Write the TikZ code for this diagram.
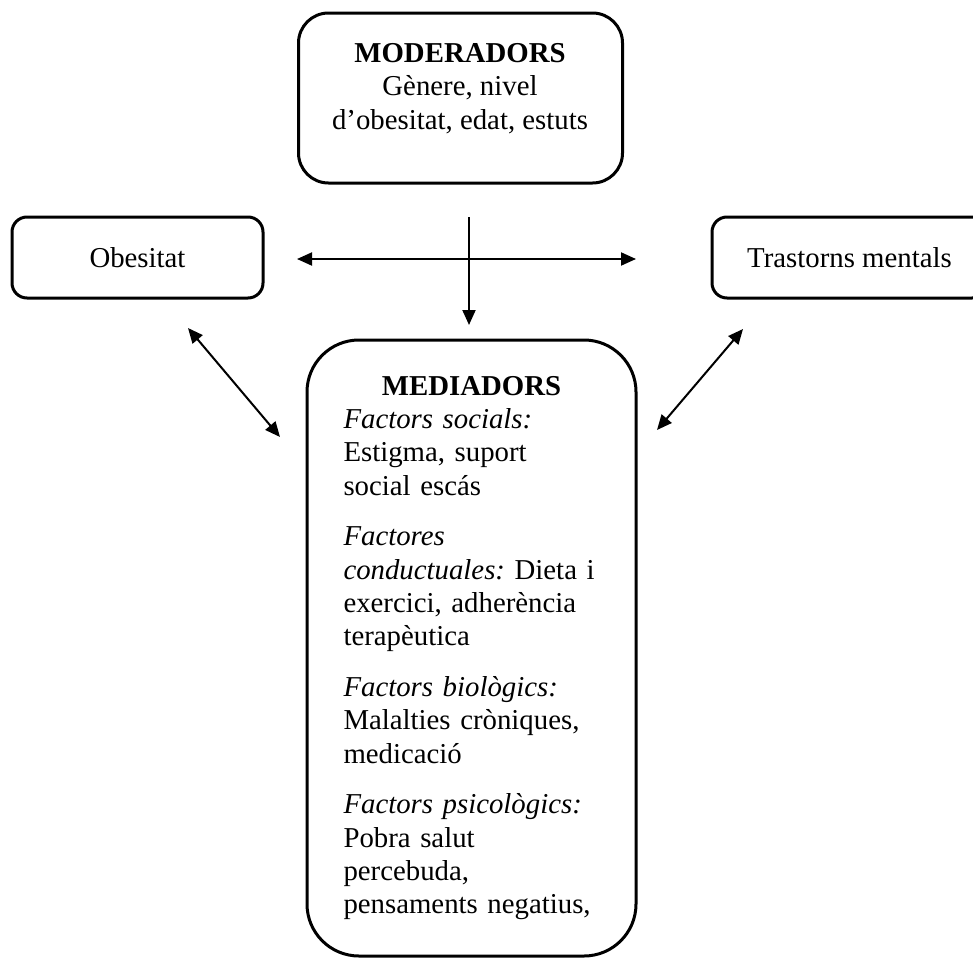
\documentclass[tikz,border=0pt]{standalone}
\usepackage{fontspec}
\setmainfont{Liberation Serif}
\usetikzlibrary{arrows.meta}
\frenchspacing

\tikzset{
  every node/.style={font=\fontsize{14.4pt}{16.65pt}\selectfont},
  modbox/.style={draw,line width=1.5pt,rounded corners=15pt,minimum width=162pt,minimum height=85pt},
  sidebox/.style={draw,line width=1.5pt,rounded corners=7.5pt,minimum width=125.5pt,minimum height=40.5pt},
  medbox/.style={draw,line width=1.5pt,rounded corners=26pt,minimum width=164.5pt,minimum height=308pt,
    text width=128pt,inner xsep=18pt,align=left}
}

\begin{document}
\begin{tikzpicture}[x=0.5pt,y=-0.5pt,line width=1pt,>={Triangle[length=7.5pt,width=6.5pt]}]
\useasboundingbox (0,0) rectangle (973,958);
\clip (0,0) rectangle (973,958);
% boxes
\node (mod) [modbox] at (460.5,98) {};
\node (modtext) [anchor=north,align=center,inner sep=0pt] at (460,42.5) {\textbf{MODERADORS}\\Gènere, nivel\\d’obesitat, edat, estuts};
\node (obes) [sidebox] at (137.5,257.5) {Obesitat};
\node (tras) [sidebox,minimum width=137.5pt] at (849.5,257.5) {Trastorns mentals};
\node (med) [medbox] at (471.5,648) {\makebox[\linewidth][c]{\textbf{MEDIADORS}}\\
\textit{Factors socials:}\\Estigma, suport\\social escás\\[8.7pt]
\textit{Factores}\\\mbox{\textit{conductuales:} Dieta i}\\exercici, adherència\\terapèutica\\[8.7pt]
\textit{Factors biològics:}\\Malalties cròniques,\\medicació\\[8.7pt]
\textit{Factors psicològics:}\\Pobra salut\\percebuda,\\pensaments negatius,};
% arrow ends
\coordinate (hl) at (297,259);
\coordinate (hr) at (636,259);
\coordinate (vt) at (469,217);
\coordinate (vb) at (469,325);
\coordinate (lt) at (188,328);
\coordinate (lb) at (280,437);
\coordinate (rt) at (743,329);
\coordinate (rb) at (657,430);
\draw [<->] (hl) -- (hr);
\draw [->] (vt) -- (vb);
\draw [<->] (lt) -- (lb);
\draw [<->] (rt) -- (rb);
\end{tikzpicture}
\end{document}
